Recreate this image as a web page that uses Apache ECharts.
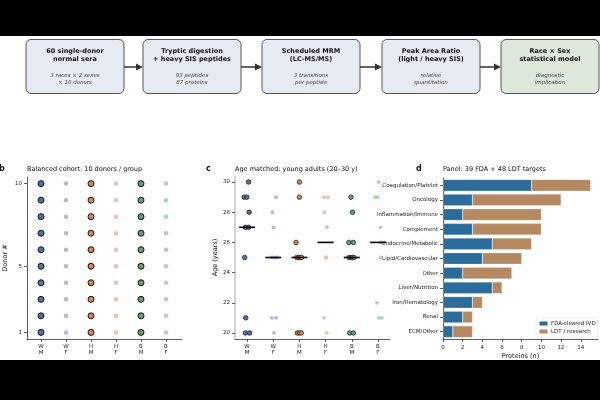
<!DOCTYPE html>
<html>
<head>
<meta charset="utf-8">
<script src="https://cdn.jsdelivr.net/npm/echarts@6/dist/echarts.min.js"></script>
<style>
html, body { margin: 0; padding: 0; background: #000; }
#chart { width: 600px; height: 400px; }
</style>
</head>
<body>
<div id="chart"></div>
<script>
// workflow steps (panel a)
var stepTitles = ['60 single-donor\nnormal sera', 'Tryptic digestion\n+ heavy SIS peptides', 'Scheduled MRM\n(LC-MS/MS)', 'Peak Area Ratio\n(light / heavy SIS)', 'Race × Sex\nstatistical model'];
var stepNotes = ['3 races × 2 sexes\n× 10 donors', '93 peptides\n87 proteins', '3 transitions\nper peptide', 'relative\nquantitation', 'diagnostic\nimplication'];

// groups (panels b, c)
var groups = ['W\nM', 'W\nF', 'H\nM', 'H\nF', 'B\nM', 'B\nF'];
var donors = [1, 2, 3, 4, 5, 6, 7, 8, 9, 10];

// ages per group + horizontal jitter
var ageWM = [30, 29, 29, 28, 27, 27, 25, 21, 20, 20];
var ageWF = [29, 28, 27, 25, 25, 25, 25, 21, 21, 20];
var ageHM = [30, 29, 26, 25, 25, 25, 25, 20, 20, 20];
var ageHF = [29, 29, 28, 27, 27, 25, 25, 25, 21, 20];
var ageBM = [29, 28, 26, 26, 25, 25, 25, 25, 20, 20];
var ageBF = [30, 29, 29, 27, 26, 26, 25, 22, 21, 21];
var jitWM = [0.06, -0.11, -0.01, 0.08, -0.06, 0.06, -0.09, -0.05, -0.06, 0.10];
var jitWF = [0.11, -0.03, 0.01, -0.05, 0.04, 0.12, 0.15, -0.05, 0.11, 0.03];
var jitHM = [0, 0, -0.13, -0.1, -0.03, 0.03, 0.08, -0.08, 0, 0.07];
var jitHF = [-0.06, 0.09, -0.05, 0.04, 0.05, 0.01, 0.02, 0.03, -0.06, 0.04];
var jitBM = [-0.03, 0.03, -0.11, 0.06, -0.1, -0.03, 0.03, 0.08, -0.08, 0.06];
var jitBF = [0.03, -0.11, -0.01, 0.09, 0.15, 0.1, 0.1, -0.04, 0.03, 0.15];

// panel d
var areas = ['Coagulation/Platelet', 'Oncology', 'Inflammation/Immune', 'Complement', 'Endocrine/Metabolic', 'Lipid/Cardiovascular', 'Other', 'Liver/Nutrition', 'Iron/Hematology', 'Renal', 'ECM/Other'];
var fdaCount = [9, 3, 2, 3, 5, 4, 2, 5, 3, 2, 1];
var ldtCount = [6, 9, 8, 7, 4, 4, 5, 1, 1, 1, 2];

var ages = [ageWM, ageWF, ageHM, ageHF, ageBM, ageBF];
var jits = [jitWM, jitWF, jitHM, jitHF, jitBM, jitBF];
var groupColors = ['#4c72b0', '#a9bcdc', '#dd8452', '#f1c0a4', '#55a868', '#aad6b4'];
var isMale = [true, false, true, false, true, false];
var FONT = 'DejaVu Sans';

function median(arr) {
    var s = arr.slice().sort(function (a, b) { return a - b; });
    var m = s.length / 2;
    return s.length % 2 ? s[Math.floor(m)] : (s[m - 1] + s[m]) / 2;
}

var chart = echarts.init(document.getElementById('chart'));

// flowchart graphic
var graphic = [
    { type: 'rect', shape: { x: 0, y: 0, width: 600, height: 36 }, style: { fill: '#000' }, z: 100 },
    { type: 'rect', shape: { x: 0, y: 360, width: 600, height: 40 }, style: { fill: '#000' }, z: 100 }
];
var boxX = [26, 143, 262, 382, 501];
var boxW = 98;
stepTitles.forEach(function (t, i) {
    var cx = boxX[i] + boxW / 2;
    graphic.push({
        type: 'rect',
        shape: { x: boxX[i], y: 39.5, width: boxW, height: 54, r: 5 },
        style: { fill: i === 4 ? '#dde8da' : '#e6ebf3', stroke: '#555', lineWidth: 1 }
    });
    graphic.push({
        type: 'text',
        style: { text: t, x: cx, y: 55, align: 'center', verticalAlign: 'middle', fontFamily: FONT, fontWeight: 'bold', fontSize: 6.5, lineHeight: 8, fill: '#111' }
    });
    graphic.push({
        type: 'text',
        style: { text: stepNotes[i], x: cx, y: 79.5, align: 'center', verticalAlign: 'middle', fontFamily: FONT, fontStyle: 'italic', fontSize: 5.5, lineHeight: 7, fill: '#444' }
    });
    if (i < 4) {
        var x0 = boxX[i] + boxW, x1 = boxX[i + 1];
        graphic.push({ type: 'line', shape: { x1: x0, y1: 67, x2: x1 - 5, y2: 67 }, style: { stroke: '#333', lineWidth: 1.5 } });
        graphic.push({ type: 'polygon', shape: { points: [[x1 - 7, 63.5], [x1, 67], [x1 - 7, 70.5]] }, style: { fill: '#333' } });
    }
});

// titles and panel letters
function txt(s, x, y, size, bold) {
    return { type: 'text', style: { text: s, x: x, y: y, verticalAlign: 'middle', fontFamily: FONT, fontSize: size, fontWeight: bold ? 'bold' : 'normal', fill: '#111' } };
}
graphic.push(txt('b', -1, 169, 8, true));
graphic.push(txt('Balanced cohort: 10 donors / group', 27, 169, 6.5));
graphic.push(txt('c', 206, 169, 8, true));
graphic.push(txt('Age matched: young adults (20–30 y)', 235, 169, 6.5));
graphic.push(txt('d', 416, 169, 8, true));
graphic.push(txt('Panel: 39 FDA + 48 LDT targets', 443, 169, 6.5));

var axisLineStyle = { color: '#333', width: 0.8 };
var labelStyle = { fontFamily: FONT, fontSize: 5.5, color: '#222' };

function groupAxis(gi, min, max) {
    return {
        type: 'value', gridIndex: gi, min: min, max: max,
        axisLine: { show: true, onZero: false, lineStyle: axisLineStyle },
        axisTick: { show: true, length: 3, customValues: [0, 1, 2, 3, 4, 5], lineStyle: axisLineStyle },
        axisLabel: Object.assign({ customValues: [0, 1, 2, 3, 4, 5], margin: 5, lineHeight: 6, formatter: function (v) { return groups[Math.round(v)]; } }, labelStyle),
        splitLine: { show: false }
    };
}

var series = [];
// panel b
groups.forEach(function (g, i) {
    series.push({
        type: 'scatter', xAxisIndex: 0, yAxisIndex: 0,
        symbolSize: isMale[i] ? 6 : 4.5,
        itemStyle: { color: groupColors[i], borderColor: isMale[i] ? '#111' : 'transparent', borderWidth: isMale[i] ? 1 : 0, opacity: 1 },
        data: donors.map(function (d) { return [i, d]; })
    });
});
// panel c
groups.forEach(function (g, i) {
    series.push({
        type: 'scatter', xAxisIndex: 1, yAxisIndex: 1,
        symbolSize: isMale[i] ? 4.5 : 3.8,
        itemStyle: { color: groupColors[i], borderColor: isMale[i] ? '#222' : 'transparent', borderWidth: isMale[i] ? 0.8 : 0, opacity: 1 },
        data: ages[i].map(function (a, k) { return [i + jits[i][k], a]; })
    });
});
series.push({
    type: 'scatter', xAxisIndex: 1, yAxisIndex: 1, z: 5,
    symbol: 'rect', symbolSize: [16, 1.6],
    itemStyle: { color: '#000', opacity: 1 },
    data: ages.map(function (a, i) { return [i, median(a)]; })
});
// panel d
series.push({
    name: 'FDA-cleared IVD', type: 'bar', stack: 'p', xAxisIndex: 2, yAxisIndex: 2, barWidth: '80%',
    itemStyle: { color: '#2b6c9a', borderColor: 'rgba(255,255,255,0.5)', borderWidth: 0.5 },
    data: fdaCount
});
series.push({
    name: 'LDT / research', type: 'bar', stack: 'p', xAxisIndex: 2, yAxisIndex: 2, barWidth: '80%',
    itemStyle: { color: '#b48860', borderColor: 'rgba(255,255,255,0.5)', borderWidth: 0.5 },
    data: ldtCount
});

var option = {
    backgroundColor: '#fff',
    animation: false,
    graphic: graphic,
    grid: [
        { left: 27, right: 418, top: 177, bottom: 61 },
        { left: 235, right: 210, top: 176, bottom: 61 },
        { left: 443, right: 2, top: 178, bottom: 61 }
    ],
    legend: {
        data: ['FDA-cleared IVD', 'LDT / research'],
        orient: 'vertical', left: 536, top: 318,
        itemWidth: 9, itemHeight: 5, itemGap: 1, padding: 2,
        backgroundColor: '#fff', borderColor: '#ddd', borderWidth: 0.5, borderRadius: 2,
        textStyle: { fontFamily: FONT, fontSize: 5.5, color: '#222', padding: [0, 0, 0, -2] }
    },
    xAxis: [
        groupAxis(0, -0.56, 5.64),
        groupAxis(1, -0.46, 5.46),
        {
            type: 'value', gridIndex: 2, min: 0, max: 15.75,
            name: 'Proteins (n)', nameLocation: 'middle', nameGap: 14,
            nameTextStyle: { fontFamily: FONT, fontSize: 6.5, color: '#111' },
            axisLine: { show: true, onZero: false, lineStyle: axisLineStyle },
            axisTick: { show: true, length: 3, customValues: [0, 2, 4, 6, 8, 10, 12, 14], lineStyle: axisLineStyle },
            axisLabel: Object.assign({ customValues: [0, 2, 4, 6, 8, 10, 12, 14], margin: 6 }, labelStyle),
            splitLine: { show: false }
        }
    ],
    yAxis: [
        {
            type: 'value', gridIndex: 0, min: 0.6, max: 10.4,
            name: 'Donor #', nameLocation: 'middle', nameGap: 18, nameRotate: 90,
            nameTextStyle: { fontFamily: FONT, fontSize: 6.5, color: '#111' },
            axisLine: { show: true, onZero: false, lineStyle: axisLineStyle },
            axisTick: { show: true, length: 3, customValues: [1, 5, 10], lineStyle: axisLineStyle },
            axisLabel: Object.assign({ customValues: [1, 5, 10], margin: 5 }, labelStyle),
            splitLine: { show: false }
        },
        {
            type: 'value', gridIndex: 1, min: 19.6, max: 30.4,
            name: 'Age (years)', nameLocation: 'middle', nameGap: 15, nameRotate: 90,
            nameTextStyle: { fontFamily: FONT, fontSize: 6.5, color: '#111' },
            axisLine: { show: true, onZero: false, lineStyle: { color: '#c4c4c4', width: 1.5 } },
            axisTick: { show: true, length: 3, customValues: [20, 22, 24, 26, 28, 30], lineStyle: axisLineStyle },
            axisLabel: Object.assign({ customValues: [20, 22, 24, 26, 28, 30], margin: 5 }, labelStyle),
            splitLine: { show: false }
        },
        {
            type: 'category', gridIndex: 2, data: areas, inverse: true,
            axisLine: { show: true, onZero: false, lineStyle: axisLineStyle },
            axisTick: { show: true, length: 3, alignWithLabel: true, lineStyle: axisLineStyle },
            axisLabel: Object.assign({ margin: 5 }, labelStyle),
            splitLine: { show: false }
        }
    ],
    series: series
};

chart.setOption(option);
</script>
</body>
</html>
